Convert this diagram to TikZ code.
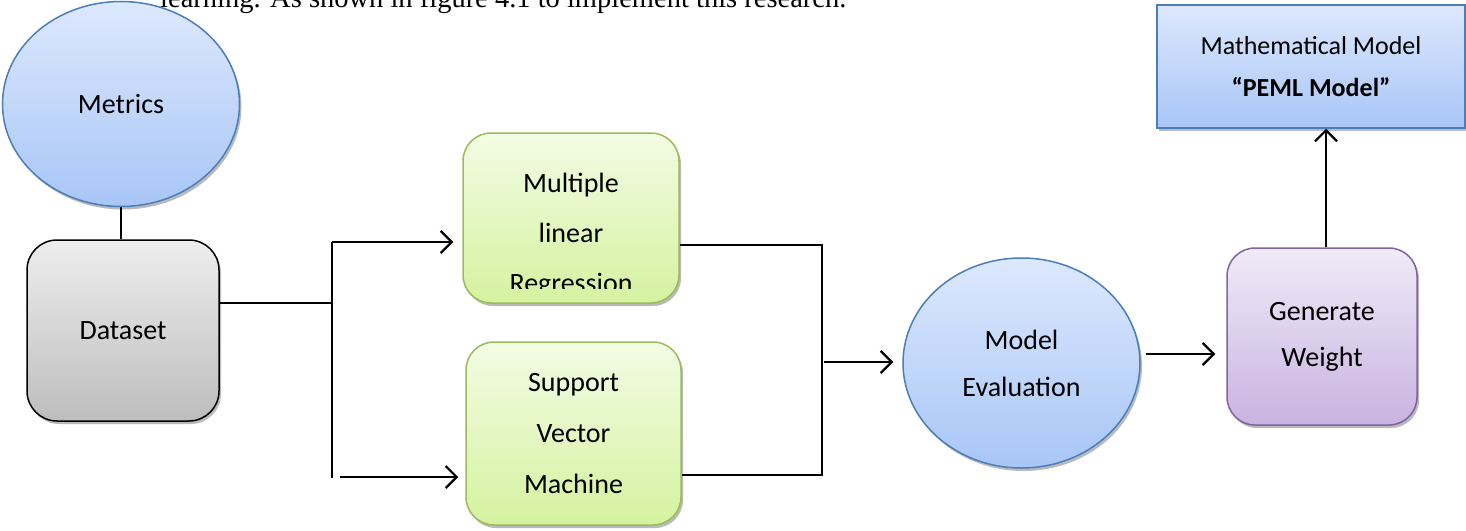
\documentclass[tikz,border=0pt]{standalone}
\usepackage{fontspec}
\setmainfont{Carlito}
\newfontfamily\bodyserif{Liberation Serif}
\usetikzlibrary{shapes.geometric,shadows,arrows.meta,calc}

\definecolor{blueTop}{HTML}{DDE8FD}
\definecolor{blueBot}{HTML}{A8C6F7}
\definecolor{blueLine}{HTML}{4A7EBB}
\definecolor{grayTop}{HTML}{EEEEEE}
\definecolor{grayBot}{HTML}{BDBDBD}
\definecolor{greenTop}{HTML}{F2FCE4}
\definecolor{greenBot}{HTML}{D5F2A0}
\definecolor{greenLine}{HTML}{9BBB59}
\definecolor{purpleTop}{HTML}{F0EBF7}
\definecolor{purpleBot}{HTML}{C9B3E1}
\definecolor{purpleLine}{HTML}{8064A2}

\tikzset{
  boxshadow/.style={drop shadow={shadow xshift=2pt,shadow yshift=-3pt,opacity=.45,fill=black!60}},
  labeltext/.style={font=\fontsize{28}{50}\selectfont,align=center,text=black},
  blueoval/.style={ellipse,draw=blueLine,line width=1.5pt,top color=blueTop,bottom color=blueBot,boxshadow,labeltext},
  graybox/.style={rectangle,rounded corners=30pt,draw=black,line width=1.5pt,top color=grayTop,bottom color=grayBot,boxshadow,labeltext},
  greenbox/.style={rectangle,rounded corners=28pt,draw=greenLine,line width=1.5pt,top color=greenTop,bottom color=greenBot,boxshadow,labeltext},
  purplebox/.style={rectangle,rounded corners=28pt,draw=purpleLine,line width=1.5pt,top color=purpleTop,bottom color=purpleBot,boxshadow,labeltext},
  bluerect/.style={rectangle,draw=blueLine,line width=1.5pt,top color=blueTop,bottom color=blueBot,boxshadow,labeltext},
  wire/.style={line width=2.2pt,draw=black},
  flow/.style={wire,-{Straight Barb[length=11pt,width=22pt,line width=2.2pt]}},
}

\begin{document}
\begin{tikzpicture}[x=1pt,y=-1pt]
  \useasboundingbox (0,0) rectangle (1466,530);

  % running text of the page, cut by the top edge
  \node[anchor=base west,inner sep=0pt,font=\bodyserif\fontsize{28.5}{32}\selectfont] (bodyline) at (160,7)
    {learning. As shown in figure 4.1 to implement this research.};

  % nodes
  \node[blueoval,minimum width=237pt,minimum height=205pt] (metrics) at (121,104) {Metrics};
  \node[graybox,minimum width=192pt,minimum height=181pt] (dataset) at (123,330.5) {Dataset};
  \node[greenbox,minimum width=216pt,minimum height=170pt] (mlr) at (571,218) {};
  \begin{scope}
    \clip (463,133) rectangle (679,288);
    \node[labeltext] (mlrtext) at (571,235) {Multiple\\linear\\Regression};
  \end{scope}
  \node[greenbox,minimum width=215pt,minimum height=183pt,font=\fontsize{28}{51}\selectfont] (svm) at (573.5,433.5) {Support\\Vector\\Machine};
  \node[blueoval,minimum width=237pt,minimum height=210pt,font=\fontsize{28}{47}\selectfont] (eval) at (1021.5,363) {Model\\Evaluation};
  \node[purplebox,minimum width=190pt,minimum height=177pt,font=\fontsize{28}{46}\selectfont] (gw) at (1322,336.5) {Generate\\Weight};
  \node[bluerect,minimum width=308pt,minimum height=123pt,font=\fontsize{26}{42}\selectfont] (math) at (1311,66.5)
    {Mathematical Model\\\textbf{“PEML Model”}};

  % junction points of the fork and the merge
  \coordinate (forkIn)  at (332,303);
  \coordinate (forkTop) at (332,242);
  \coordinate (forkBot) at (332,478);
  \coordinate (lowStart) at (340,477);
  \coordinate (mergeTop) at (822,245);
  \coordinate (mergeBot) at (822,475);
  \coordinate (mergeOut) at (824,362);
  \coordinate (evalOut) at (1146,354);

  % connectors
  \draw[wire] (metrics.south) -- (metrics.south |- dataset.north);
  \draw[wire] (dataset.east |- forkIn) -- (forkIn);
  \draw[wire] (forkTop) -- (forkBot);
  \draw[flow,shorten >=9pt] (forkTop) -- (forkTop -| mlr.west);
  \draw[flow,shorten >=7pt] (lowStart) -- (lowStart -| svm.west);
  \draw[wire] (mlr.east |- mergeTop) -- (mergeTop) -- (mergeBot) -- (svm.east |- mergeBot);
  \draw[flow,shorten >=9pt] (mergeOut) -- (eval.west |- mergeOut);
  \draw[flow,shorten >=11pt] (evalOut) -- (evalOut -| gw.west);
  \draw[flow] (gw.north -| 1326,0) -- (math.south -| 1326,0);
\end{tikzpicture}
\end{document}
